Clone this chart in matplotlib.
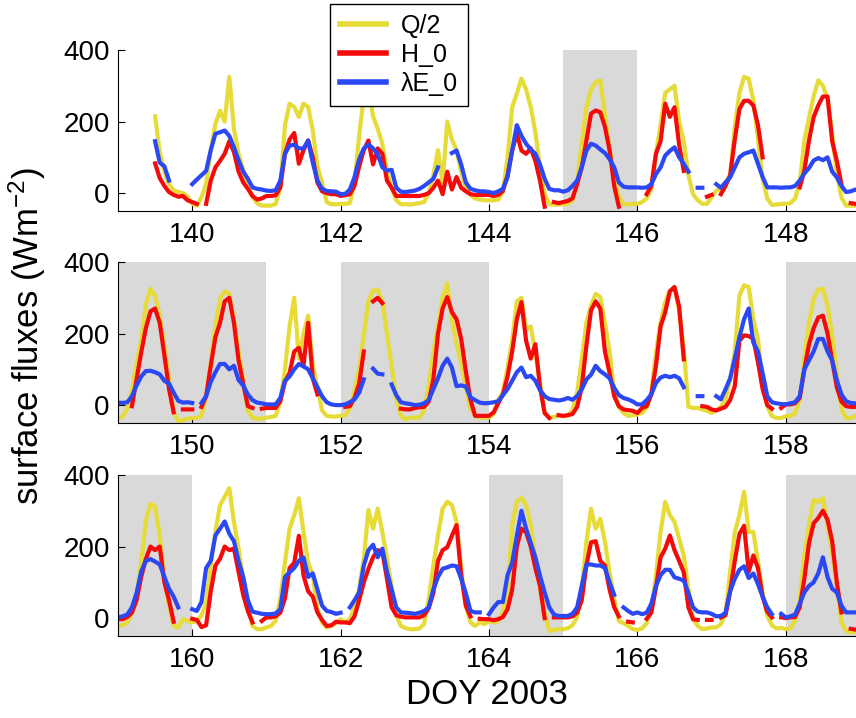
import numpy as np
import matplotlib.pyplot as plt

nan = np.nan

# -----------------------------
# Data: 16 samples per day (every 1.5 h), DOY 139-168
# -----------------------------
days = np.arange(139, 169)
day_frac = np.arange(16) / 16

# Q/2 (yellow)
q_half = [
    [nan, nan, nan, nan, nan, nan, nan, nan, 215, 115, 60, 25, 8, 3, 0, -10],
    [-30, -35, -12, 25, 120, 194, 230, 200, 325, 180, 110, 65, 20, -10, -28, -35],
    [-35, -35, -30, 16, 190, 250, 241, 213, 250, 241, 175, 75, 30, -25, -31, -31],
    [-30, -30, -28, 30, 160, 270, 290, 215, 180, 138, 60, 15, -20, -31, -31, -32],
    [-30, -28, -25, 0, 50, 120, 30, 200, 150, 120, 60, 15, -5, -15, -18, -20],
    [-20, -20, -18, 5, 100, 240, 278, 320, 290, 241, 170, 72, -3, -31, -32, -32],
    [-31, -30, -20, 30, 140, 240, 290, 310, 315, 220, 125, 50, -10, -30, -32, -30],
    [-30, -25, -15, 10, 110, 190, 280, 290, 300, 200, 145, 50, -3, -20, -30, -30],
    [-12, 7, 12, 30, 50, 185, 280, 325, 320, 260, 150, 40, -15, -33, -32, -30],
    [-30, -28, -15, 30, 147, 210, 270, 315, 300, 265, 165, 55, -12, -35, -35, -35],
    [-35, -33, -10, 40, 115, 180, 280, 325, 306, 250, 165, 75, -20, -45, -42, -38],
    [-36, -36, -30, 25, 120, 222, 297, 318, 311, 241, 150, 70, -15, -35, -38, -38],
    [-35, -33, -30, 10, 100, 220, 300, 130, 200, 250, 110, 50, -15, -30, -32, -32],
    [-30, -28, -10, 40, 100, 194, 290, 320, 322, 290, 200, 110, 20, -30, -40, -35],
    [-35, -34, -15, 55, 147, 220, 300, 340, 240, 170, 120, 50, -10, -30, -35, -35],
    [-35, -25, 15, 35, 105, 180, 290, 300, 210, 220, 147, 63, -22, -35, -33, -30],
    [-31, -30, -15, 35, 128, 231, 278, 311, 302, 230, 150, 35, -5, -22, -30, -28],
    [-26, -22, -7, 35, 147, 231, 288, 320, 330, 265, 157, -5, -8, -8, -12, -16],
    [-22, -14, -5, 16, 72, 150, 306, 335, 330, 241, 185, 63, -3, -31, -36, -36],
    [-31, -31, -23, 16, 128, 231, 297, 323, 325, 278, 194, 91, -12, -36, -36, -31],
    [-22, -20, -12, 16, 63, 156, 270, 320, 311, 231, 110, 35, -22, -26, -3, -8],
    [-12, -8, 7, 44, 147, 241, 316, 339, 363, 270, 194, 110, 35, -22, -31, -31],
    [-26, -22, -7, 53, 156, 250, 288, 335, 241, 156, 119, 25, -12, -26, -22, -14],
    [-3, -12, -3, 30, 82, 166, 302, 250, 306, 241, 166, 91, 7, -22, -28, -31],
    [-31, -29, -17, 53, 147, 231, 306, 325, 316, 269, 138, 35, -12, -22, -12, -17],
    [-8, -12, -8, 16, 72, 260, 325, 336, 316, 260, 166, 82, 16, -36, -33, -31],
    [-31, -28, -20, 2, 82, 213, 306, 250, 278, 213, 128, 53, -8, -14, -22, -31],
    [-33, -29, -14, 25, 119, 241, 325, 288, 269, 222, 175, 82, -3, -22, -31, -29],
    [-26, -26, -17, 16, 128, 241, 288, 353, 241, 241, 156, 72, 7, -20, -29, -27],
    [-31, -29, -7, 53, 175, 260, 330, 325, 335, 260, 185, 91, -12, -36, -40, -38],
]

# H_0 (red)
h_0 = [
    [nan, nan, nan, nan, nan, nan, nan, nan, 83, 42, 20, 3, -5, -10, -8, -20],
    [-25, -30, nan, -30, 35, 72, 90, 110, 145, 115, 60, 30, 12, -8, -18, -15],
    [-8, -8, -6, 16, 110, 150, 168, 82, 120, 147, 100, 30, 5, 0, -3, -3],
    [-8, -6, -3, 20, 75, 120, 147, 80, 125, 110, 35, 15, -8, -8, -8, -8],
    [-8, -8, -5, 0, 15, 35, -3, 60, 10, 45, 15, 5, -3, -5, -5, -5],
    [-5, -8, -5, 6, 50, 119, 166, 119, 110, 125, 90, 35, -38, nan, -25, -28],
    [-25, -22, -15, 25, 72, 147, 222, 231, 226, 185, 120, 20, -38, nan, nan, nan],
    [nan, nan, -3, 20, 110, 145, 250, 213, 240, 135, 62, nan, nan, nan, nan, -10],
    [-5, nan, -3, 20, 50, 150, 235, 258, 258, 245, 190, 100, nan, nan, nan, nan],
    [nan, nan, nan, 16, 63, 147, 212, 245, 270, 270, 145, 90, 25, nan, -28, -30],
    [nan, nan, nan, -3, 72, 147, 215, 262, 270, 230, 140, 45, -20, nan, -12, -12],
    [-12, nan, -5, 25, 110, 190, 230, 290, 300, 230, 125, 60, -3, -8, nan, -10],
    [-8, -8, -8, 11, 65, 90, 150, 160, 110, 230, 75, 30, nan, nan, nan, nan],
    [nan, -5, -3, 20, 60, 150, nan, 290, 300, 285, nan, nan, nan, -10, -12, -12],
    [-8, -6, -5, 10, 72, 200, 270, 302, 260, 240, 185, 95, 15, -30, -30, -30],
    [-30, -20, 5, 30, 80, 150, 240, 288, 180, 130, 170, 50, -22, -36, nan, -28],
    [-30, -28, -25, -5, 50, 166, 265, 290, 270, 150, 90, 25, -3, -12, -14, -16],
    [-22, -8, -3, 30, 110, 220, 260, 318, 330, 275, 128, nan, nan, nan, -3, -5],
    [-12, -15, -10, -5, 14, 53, 180, 195, 193, 185, 120, 45, 0, -10, nan, -8],
    [2, 2, 5, 20, 100, 170, 215, 245, 250, 200, 125, 50, 10, -3, -5, -5],
    [-3, -3, 3, 15, 50, 115, 165, 200, 190, 200, 100, 50, -10, nan, nan, nan],
    [-2, -5, -25, -20, 75, 147, 166, 200, 190, 194, 130, 65, 20, -12, nan, -8],
    [2, 2, 5, 15, 55, 140, 155, 230, 119, 75, 60, 16, -5, -22, -20, -10],
    [-12, -12, -14, 5, 50, 100, 138, 170, 190, 185, 110, 30, 8, 4, 2, 2],
    [2, 2, 8, 28, 70, 160, 190, 198, 230, 260, 120, 35, 5, nan, -2, -3],
    [-3, -6, -3, 3, 25, 80, 200, 250, 240, 200, 140, 90, 0, nan, 2, 2],
    [2, 2, 5, 15, 50, 147, 212, 215, 160, 147, 80, 30, 5, nan, -10, -12],
    [nan, nan, -2, 15, 85, 170, 194, 231, 190, 160, 128, 30, -3, -5, nan, -5],
    [-5, nan, 2, 8, 75, 160, 235, 258, 130, 175, 140, 60, 18, 2, nan, 2],
    [0, 2, 3, 30, 110, 210, 265, 280, 300, 275, 215, 100, 16, nan, -30, -32],
]

# lambda E_0 (blue)
le_0 = [
    [nan, nan, nan, nan, nan, nan, nan, nan, 145, 85, 75, 35, nan, nan, nan, nan],
    [25, 38, 50, 62, 120, 166, 170, 175, 160, 128, 92, 60, 40, 16, 12, 10],
    [7, 6, 8, 35, 110, 133, 135, 125, 125, 147, 85, 35, 12, 6, 5, 4],
    [-3, -2, 10, 45, 95, 125, 136, 125, 108, 72, 63, 65, 15, 4, 3, 5],
    [7, 12, 20, 30, 40, 72, nan, nan, 112, 119, 80, 30, 12, 8, 5, 5],
    [3, 0, 5, 12, 45, 120, 190, 160, 138, 122, 110, 80, 40, 12, 8, 8],
    [4, 8, 20, 35, 72, 119, 138, 133, 122, 112, 95, 72, 30, 18, 16, 16],
    [16, 15, 16, 25, 53, 72, 105, 118, 128, 100, 82, 60, nan, 15, 15, nan],
    [nan, 25, 15, 30, 44, 72, 100, 110, 114, 119, 82, 45, 16, 16, 16, 15],
    [16, 16, 20, 35, 55, 70, 91, 98, 92, 100, 60, 44, 20, 3, 5, 10],
    [7, 6, 8, 25, 55, 80, 95, 96, 92, 86, 68, 60, 35, 12, 7, 8],
    [6, nan, 6, 25, 65, 92, 115, 115, 100, 110, 70, 55, 30, 14, 7, 5],
    [2, 2, 2, 20, 68, 80, 100, 115, 108, 100, 75, 50, 25, 8, 2, 0],
    [0, 2, 8, 16, 35, 72, nan, 102, 88, 86, nan, 58, 28, 8, 5, 3],
    [0, 1, 5, 14, 45, 75, 110, 130, 105, 53, 55, 52, 22, 14, 7, 5],
    [6, 8, 11, 28, 45, 68, 92, 105, 78, 82, 68, 42, 25, 17, 15, 13],
    [15, 20, 15, 25, 44, 72, 85, 110, 95, 86, 75, 48, 28, 20, 16, 10],
    [2, 2, 14, 30, 62, 77, 82, 78, 82, 75, 50, nan, nan, 25, 25, nan],
    [nan, 25, 16, 44, 75, 130, 190, 240, 270, 175, 150, 90, 25, 8, 5, 3],
    [2, 5, 8, 25, 100, 125, 150, 185, 185, 150, 125, 70, 30, 11, 6, 5],
    [2, 5, 10, 30, 70, 130, 160, 165, 158, 150, 115, 82, 60, 30, nan, nan],
    [25, 20, 45, 140, 160, 231, 250, 270, 236, 215, 160, 115, 50, 18, 15, 12],
    [11, 11, 13, 25, 115, 128, 140, 160, 170, 115, 125, 80, 35, 20, 17, 12],
    [15, nan, 30, 50, 72, 147, 190, 205, 170, 194, 130, 80, 30, 16, 15, 14],
    [12, 15, 20, 30, 80, 115, 138, 142, 147, 145, 110, 70, 20, 16, 16, nan],
    [11, 30, 45, 45, 120, 155, 230, 300, 250, 210, 170, 118, 72, 30, 10, 6],
    [6, 6, 12, 30, 90, 150, 150, 147, 147, 140, 100, 65, nan, 30, 20, 12],
    [16, 11, 15, 40, 90, 120, 135, 135, 114, 110, 105, 70, 30, 18, 16, 16],
    [12, 5, 6, 15, 75, 110, 135, 145, 112, 125, 95, 60, 30, 11, nan, 12],
    [2, 5, 10, 40, 72, 90, 100, 125, 170, 115, 82, 72, 35, 16, 16, 16],
]

# grey-shaded days and the first day of each panel
shaded_days = [145, 149, 150, 152, 153, 158, 159, 164, 168]
panel_starts = [139, 149, 159]

# -----------------------------
# Style
# -----------------------------
plt.rcParams['font.family'] = ['Liberation Sans', 'DejaVu Sans']
plt.rcParams['mathtext.default'] = 'regular'

c_q = '#e6db37'
c_h = '#f50a0a'
c_le = '#2b48f5'
c_shade = '#d9d9d9'

t = (days[:, None] + day_frac[None, :]).ravel()
q = np.array(q_half, dtype=float).ravel()
h = np.array(h_0, dtype=float).ravel()
le = np.array(le_0, dtype=float).ravel()

# -----------------------------
# Plot
# -----------------------------
fig = plt.figure(figsize=(8.56, 7.18), dpi=100)
W, H = 856, 718
ax_left, ax_w, ax_h = 118, 742, 161
ax_tops = [50, 262, 475]

for start, top in zip(panel_starts, ax_tops):
    ax = fig.add_axes([ax_left / W, 1 - (top + ax_h) / H, ax_w / W, ax_h / H])
    for d in shaded_days:
        ax.axvspan(d, d + 1, color=c_shade, lw=0, zorder=0)
    lq, = ax.plot(t, q, color=c_q, lw=3, label='Q/2', zorder=2)
    lh, = ax.plot(t, h, color=c_h, lw=3, label='H_0', zorder=3)
    ll, = ax.plot(t, le, color=c_le, lw=3, label='λE_0', zorder=4)
    ax.set_xlim(start, start + 10)
    ax.set_ylim(-50, 400)
    ax.set_xticks(np.arange(start + 1, start + 10, 2))
    ax.set_yticks([0, 200, 400])
    ax.spines['top'].set_visible(False)
    ax.spines['right'].set_visible(False)
    for s in ['left', 'bottom']:
        ax.spines[s].set_linewidth(0.8)
        ax.spines[s].set_zorder(5)
    ax.tick_params(direction='in', length=5, width=0.8, labelsize=20)
    ax.tick_params(axis='x', pad=8)
    ax.tick_params(axis='y', pad=6)

leg = fig.legend(handles=[lq, lh, ll], loc='upper left',
                 bbox_to_anchor=(330 / W, 1 - 4 / H), fontsize=18,
                 frameon=True, fancybox=False, framealpha=1, edgecolor='black',
                 handlelength=1.85, handletextpad=0.6, labelspacing=0.2,
                 borderpad=0.4, borderaxespad=0)
leg.get_frame().set_linewidth(1.0)
for line in leg.get_lines():
    line.set_linewidth(4)

fig.text(27 / W, 1 - 336 / H, 'surface fluxes (Wm$^{-2}$)', rotation=90,
         ha='center', va='center', fontsize=25)
fig.text(487 / W, 1 - 694 / H, 'DOY 2003', ha='center', va='center', fontsize=25)

fig.savefig('out.png', dpi=100)
